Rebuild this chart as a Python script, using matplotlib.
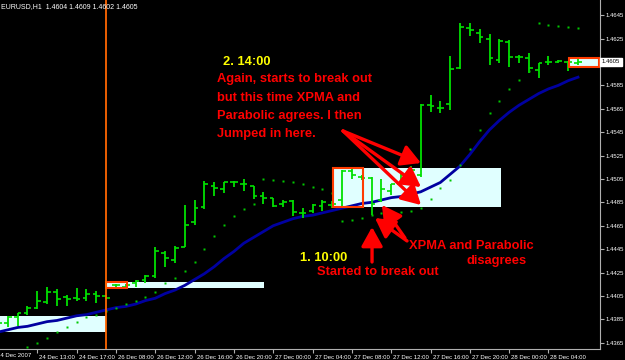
import numpy as np
import matplotlib
matplotlib.use('Agg')
import matplotlib.pyplot as plt
from matplotlib.patches import Rectangle
from matplotlib.transforms import ScaledTranslation

plt.rcParams['font.family'] = ['Liberation Sans', 'DejaVu Sans']

# EURUSD H1 bars
opens = [1.4380, 1.4382, 1.4387, 1.4390, 1.4395, 1.4400, 1.4408, 1.4404, 1.4403, 1.4403,
         1.4407, 1.4405, 1.4414, 1.4413, 1.4416, 1.4419, 1.4422, 1.4442, 1.4436, 1.4447,
         1.4468, 1.4481, 1.4499, 1.4496, 1.4502, 1.4501, 1.4499, 1.4490, 1.4489, 1.4484,
         1.4486, 1.4476, 1.4478, 1.4482, 1.4483, 1.4487, 1.4512, 1.4507, 1.4506, 1.4487,
         1.4495, 1.4501, 1.4510, 1.4508, 1.4568, 1.4566, 1.4569, 1.4600, 1.4634, 1.4630,
         1.4625, 1.4607, 1.4622, 1.4609, 1.4608, 1.4598, 1.4605, 1.4605, 1.4605, 1.4604]
highs = [1.4386, 1.4388, 1.4390, 1.4396, 1.4409, 1.4413, 1.4411, 1.4406, 1.4412, 1.4411,
         1.4409, 1.4406, 1.4415, 1.4415, 1.4419, 1.4423, 1.4447, 1.4443, 1.4448, 1.4483,
         1.4487, 1.4503, 1.4502, 1.4502, 1.4503, 1.4505, 1.4499, 1.4494, 1.4489, 1.4487,
         1.4487, 1.4480, 1.4484, 1.4487, 1.4486, 1.4513, 1.4514, 1.4508, 1.4507, 1.4505,
         1.4501, 1.4509, 1.4516, 1.4569, 1.4577, 1.4572, 1.4610, 1.4638, 1.4638, 1.4633,
         1.4629, 1.4625, 1.4624, 1.4611, 1.4613, 1.4604, 1.4610, 1.4607, 1.4606, 1.4609]
lows = [1.4372, 1.4378, 1.4379, 1.4389, 1.4394, 1.4398, 1.4396, 1.4396, 1.4401, 1.4401,
        1.4399, 1.4402, 1.4413, 1.4413, 1.4413, 1.4416, 1.4420, 1.4430, 1.4433, 1.4447,
        1.4466, 1.4479, 1.4490, 1.4493, 1.4498, 1.4495, 1.4488, 1.4484, 1.4481, 1.4481,
        1.4473, 1.4472, 1.4476, 1.4478, 1.4480, 1.4481, 1.4505, 1.4504, 1.4474, 1.4485,
        1.4491, 1.4499, 1.4504, 1.4507, 1.4562, 1.4561, 1.4564, 1.4599, 1.4627, 1.4621,
        1.4602, 1.4604, 1.4601, 1.4604, 1.4596, 1.4591, 1.4602, 1.4604, 1.4597, 1.4602]
closes = [1.4382, 1.4387, 1.4390, 1.4395, 1.4401, 1.4408, 1.4402, 1.4402, 1.4402, 1.4407,
          1.4405, 1.4403, 1.4414, 1.4414, 1.4418, 1.4422, 1.4443, 1.4437, 1.4446, 1.4466,
          1.4480, 1.4501, 1.4497, 1.4502, 1.4502, 1.4501, 1.4490, 1.4489, 1.4482, 1.4485,
          1.4477, 1.4476, 1.4483, 1.4485, 1.4484, 1.4512, 1.4508, 1.4506, 1.4484, 1.4496,
          1.4501, 1.4508, 1.4513, 1.4568, 1.4567, 1.4566, 1.4599, 1.4635, 1.4632, 1.4626,
          1.4608, 1.4623, 1.4609, 1.4609, 1.4600, 1.4604, 1.4605, 1.4606, 1.4605, 1.4605]

# Parabolic SAR (nan = off screen)
sar = [np.nan, np.nan, np.nan, 1.4361, 1.4365, 1.4369, 1.4374, 1.4378, 1.4383, 1.4387,
       1.4389, 1.4392, 1.4395, 1.4398, 1.4401, 1.4404, 1.4408, 1.4416, 1.4420, 1.4426,
       1.4434, 1.4445, 1.4456, 1.4466, 1.4473, 1.4479, 1.4484, 1.4505, 1.4504, 1.4503,
       1.4502, 1.4501, 1.4498, 1.4496, 1.4493, 1.4469, 1.4470, 1.4472, 1.4474, 1.4476,
       1.4477, 1.4477, 1.4478, 1.4480, 1.4488, 1.4497, 1.4504, 1.4517, 1.4531, 1.4547,
       1.4561, 1.4572, 1.4582, 1.4590, 1.4597, 1.4638, 1.4637, 1.4636, 1.4635, 1.4634]

# XPMA moving average
xpma = [1.4374, 1.4376, 1.4378, 1.4379, 1.4381, 1.4383, 1.4384, 1.4386, 1.4388, 1.4389,
        1.4391, 1.4393, 1.4395, 1.4396, 1.4398, 1.4401, 1.4403, 1.4407, 1.4410, 1.4414,
        1.4419, 1.4424, 1.4430, 1.4437, 1.4443, 1.4450, 1.4455, 1.4460, 1.4465, 1.4468,
        1.4471, 1.4473, 1.4474, 1.4476, 1.4478, 1.4480, 1.4482, 1.4484, 1.4485, 1.4487,
        1.4489, 1.4490, 1.4492, 1.4494, 1.4498, 1.4502, 1.4509, 1.4516, 1.4526, 1.4537,
        1.4547, 1.4555, 1.4562, 1.4568, 1.4573, 1.4578, 1.4582, 1.4585, 1.4589, 1.4592]

tick_pos = [4, 8, 12, 16, 20, 24, 28, 32, 36, 40, 44, 48, 52, 56]
tick_labels = ['24 Dec 13:00', '24 Dec 17:00', '26 Dec 08:00', '26 Dec 12:00', '26 Dec 16:00',
               '26 Dec 20:00', '27 Dec 00:00', '27 Dec 04:00', '27 Dec 08:00', '27 Dec 12:00',
               '27 Dec 16:00', '27 Dec 20:00', '28 Dec 00:00', '28 Dec 04:00']
price_ticks = [1.4365, 1.4385, 1.4405, 1.4425, 1.4445, 1.4465, 1.4485, 1.4505,
               1.4525, 1.4545, 1.4565, 1.4585, 1.4605, 1.4625, 1.4645]

# rectangles drawn on the chart: (bar from, bar to, price low, price high)
cyan_boxes = [(-1, 11, 1.4374, 1.4388), (11, 27.06, 1.4412, 1.4417),
              (34.08, 51.17, 1.4481, 1.4514), (58.08, 61.14, 1.4601, 1.4608)]
red_boxes = [(11, 13.12, 1.4412, 1.4417), (34.08, 37.13, 1.4481, 1.4514),
             (58.08, 61.14, 1.4601, 1.4608)]
separator = 11

idx = np.arange(len(opens))

fig = plt.figure(figsize=(6.25, 3.6), dpi=100, facecolor='black')
ax = fig.add_axes([0, 11/360, 600/625, 349/360], facecolor='black')

for x0, x1, p0, p1 in cyan_boxes:
    ax.add_patch(Rectangle((x0, p0), x1 - x0, p1 - p0, fc='#E0FFFF', ec='none', zorder=1))

ax.plot(idx, xpma, color='#0000A0', lw=2, zorder=2)

green = '#00E000'
ax.vlines(idx, lows, highs, color=green, lw=1.3, zorder=3)
ax.hlines(opens, idx - 0.38, idx, color=green, lw=1.2, zorder=3)
ax.hlines(closes, idx, idx + 0.38, color=green, lw=1.2, zorder=3)
ax.plot(idx, sar, ls='none', marker='s', ms=2, color='#00C800', mec='none', zorder=3)

for x0, x1, p0, p1 in red_boxes:
    ax.add_patch(Rectangle((x0, p0), x1 - x0, p1 - p0, fc='none', ec='#FF3C00', lw=1.5, zorder=4))

ax.axvline(separator, color='#FF6600', lw=1.3, zorder=4)

ax.set_xlim(0.2035, 61.24)
ax.set_ylim(1.43596, 1.4658)

# axes styling
for s in ['left', 'top']:
    ax.spines[s].set_visible(False)
for s in ['right', 'bottom']:
    ax.spines[s].set_color('#B0B0B0')
ax.yaxis.tick_right()
ax.set_yticks(price_ticks)
ax.set_yticklabels(['%.4f' % p for p in price_ticks])
ax.set_xticks(tick_pos)
ax.set_xticklabels(tick_labels)
ax.tick_params(colors='#B0B0B0', labelcolor='white', labelsize=4.3, length=3, width=0.8, pad=1)
off = ScaledTranslation(2/100, 0, fig.dpi_scale_trans)
for lab in ax.get_xticklabels():
    lab.set_ha('left')
    lab.set_transform(lab.get_transform() + off)
ax.text(-0.13, -0.012, '24 Dec 2007', transform=ax.get_xaxis_transform(), color='white',
        fontsize=4.3, ha='left', va='top', clip_on=False)

fig.text(0.002, 0.992, 'EURUSD,H1  1.4604 1.4609 1.4602 1.4605', color='white',
         fontsize=5, ha='left', va='top')
ax.annotate('1.4605', xy=(1.003, 1.4605), xycoords=('axes fraction', 'data'), color='black',
            fontsize=4.3, ha='left', va='center', annotation_clip=False, zorder=10,
            bbox=dict(boxstyle='square,pad=0.25', fc='white', ec='white'))

# annotations
bold = dict(weight='bold', fontsize=9.3, ha='left', va='center', zorder=6)
ax.text(22.89, 1.4605, '2. 14:00', color='yellow', **bold)
lines = ['Again, starts to break out', 'but this time XPMA and',
         'Parabolic agrees. I then', 'Jumped in here.']
for yy, t in zip([1.45905, 1.45742, 1.45588, 1.45434], lines):
    ax.text(22.28, yy, t, color='red', **bold)
ax.text(30.72, 1.44374, '1. 10:00', color='yellow', **bold)
ax.text(32.45, 1.44254, 'Started to break out', color='red', **bold)
ax.text(41.81, 1.44477, 'XPMA and Parabolic', color='red', **bold)
ax.text(47.61, 1.44348, 'disagrees', color='red', **bold)

arr = dict(arrowstyle='-|>,head_length=0.9,head_width=0.5', color='red', lw=2.4,
           mutation_scale=13, shrinkA=0, shrinkB=0)
for tip in [1.45186, 1.44981, 1.44827]:
    ax.annotate('', xy=(43.03, tip), xytext=(35.1, 1.4546), arrowprops=arr, zorder=5)
ax.annotate('', xy=(38.05, 1.44639), xytext=(38.05, 1.4434), arrowprops=arr, zorder=5)
ax.annotate('', xy=(38.35, 1.44716), xytext=(41.61, 1.4452), arrowprops=arr, zorder=5)
ax.annotate('', xy=(39.06, 1.44827), xytext=(41.4, 1.44545), arrowprops=arr, zorder=5)

plt.savefig('out.png', dpi=100, facecolor='black')
